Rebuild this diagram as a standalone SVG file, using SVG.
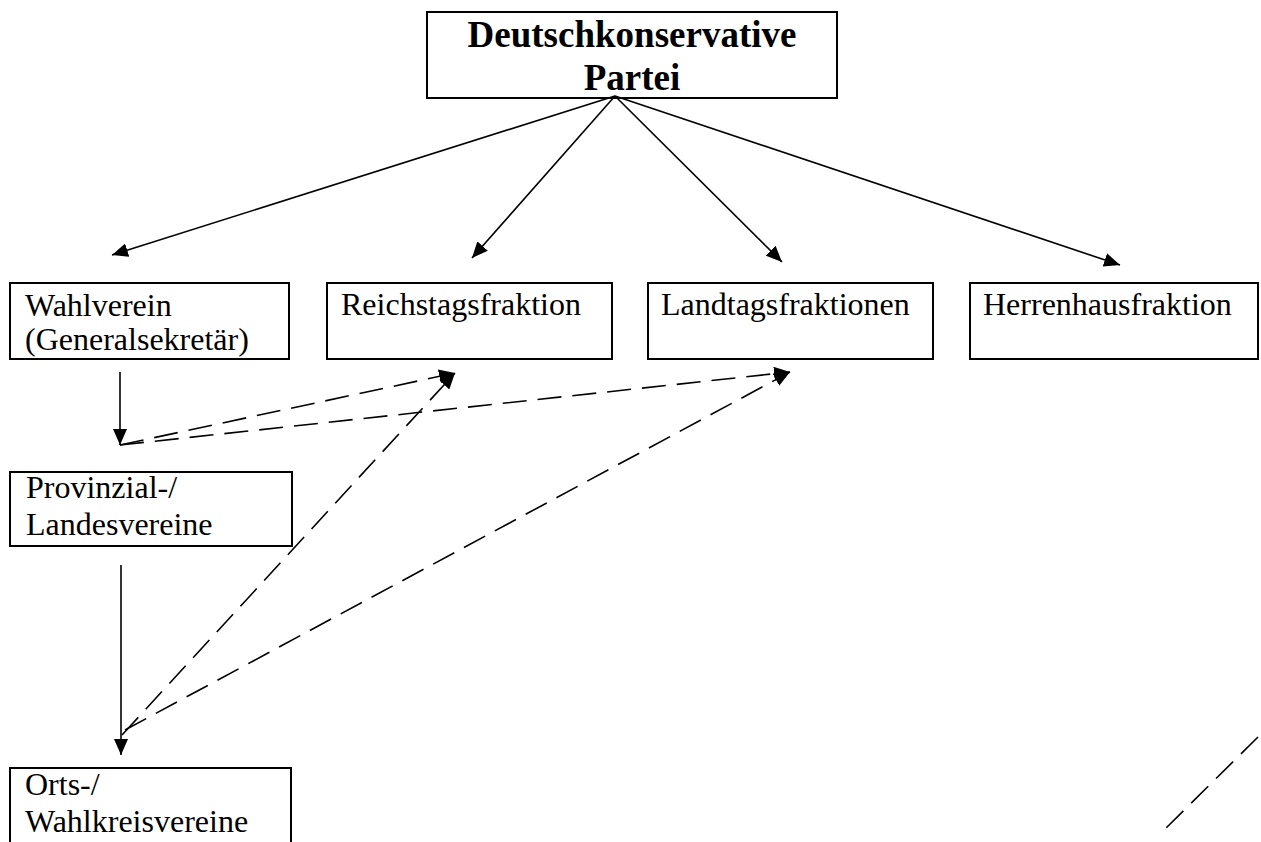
<svg xmlns="http://www.w3.org/2000/svg" width="1261" height="842" viewBox="0 0 1261 842">
<style>
.box{fill:#fff;stroke:#000;stroke-width:2}
.t{font-family:"Liberation Serif","Times New Roman",serif;font-size:32px;fill:#000}
.tb{font-family:"Liberation Serif","Times New Roman",serif;font-size:37px;font-weight:bold;fill:#000}
.c{stroke:#000;stroke-width:1.6;fill:none}
.d{stroke-dasharray:24 11}
</style>
<defs>
<marker id="ah" markerUnits="userSpaceOnUse" markerWidth="18" markerHeight="14" refX="16" refY="7" orient="auto">
<path d="M0,0 L16,7 L0,14 Z" fill="#000"/>
</marker>
</defs>
<rect width="1261" height="842" fill="#fff"/>
<g id="n-partei">
<rect class="box" x="427" y="12" width="410" height="86"/>
<text class="tb" x="632" y="47" text-anchor="middle">Deutschkonservative</text>
<text class="tb" x="632" y="90" text-anchor="middle">Partei</text>
</g>
<g id="n-wahlverein">
<rect class="box" x="10" y="283" width="279" height="76"/>
<text class="t" x="25" y="316">Wahlverein</text>
<text class="t" x="25" y="350">(Generalsekretär)</text>
</g>
<g id="n-reichstag">
<rect class="box" x="327" y="283" width="285" height="76"/>
<text class="t" x="341" y="315">Reichstagsfraktion</text>
</g>
<g id="n-landtag">
<rect class="box" x="648" y="283" width="285" height="76"/>
<text class="t" x="661" y="315">Landtagsfraktionen</text>
</g>
<g id="n-herrenhaus">
<rect class="box" x="970" y="283" width="288" height="76"/>
<text class="t" x="983" y="315">Herrenhausfraktion</text>
</g>
<g id="n-provinzial">
<rect class="box" x="10" y="472" width="282" height="74"/>
<text class="t" x="26" y="498">Provinzial-/</text>
<text class="t" x="26" y="535">Landesvereine</text>
</g>
<g id="n-orts">
<rect class="box" x="10" y="768" width="281" height="90"/>
<text class="t" x="25" y="795">Orts-/</text>
<text class="t" x="25" y="832">Wahlkreisvereine</text>
</g>
<g id="connectors">
<line class="c" x1="615" y1="96" x2="112" y2="255" marker-end="url(#ah)"/>
<line class="c" x1="615" y1="96" x2="472" y2="258" marker-end="url(#ah)"/>
<line class="c" x1="615" y1="96" x2="782" y2="262" marker-end="url(#ah)"/>
<line class="c" x1="615" y1="96" x2="1120" y2="265" marker-end="url(#ah)"/>
<line class="c" x1="120" y1="372" x2="120" y2="445" marker-end="url(#ah)"/>
<line class="c" x1="121" y1="565" x2="121" y2="755" marker-end="url(#ah)"/>
<line class="c d" x1="120" y1="445" x2="455" y2="373" marker-end="url(#ah)"/>
<line class="c d" x1="120" y1="445" x2="790" y2="372" marker-end="url(#ah)"/>
<line class="c d" x1="122" y1="735" x2="455" y2="373" marker-end="url(#ah)"/>
<line class="c d" x1="125" y1="730" x2="790" y2="372" marker-end="url(#ah)"/>
<line class="c d" x1="1258" y1="737" x2="1160" y2="834"/>
</g>
</svg>
